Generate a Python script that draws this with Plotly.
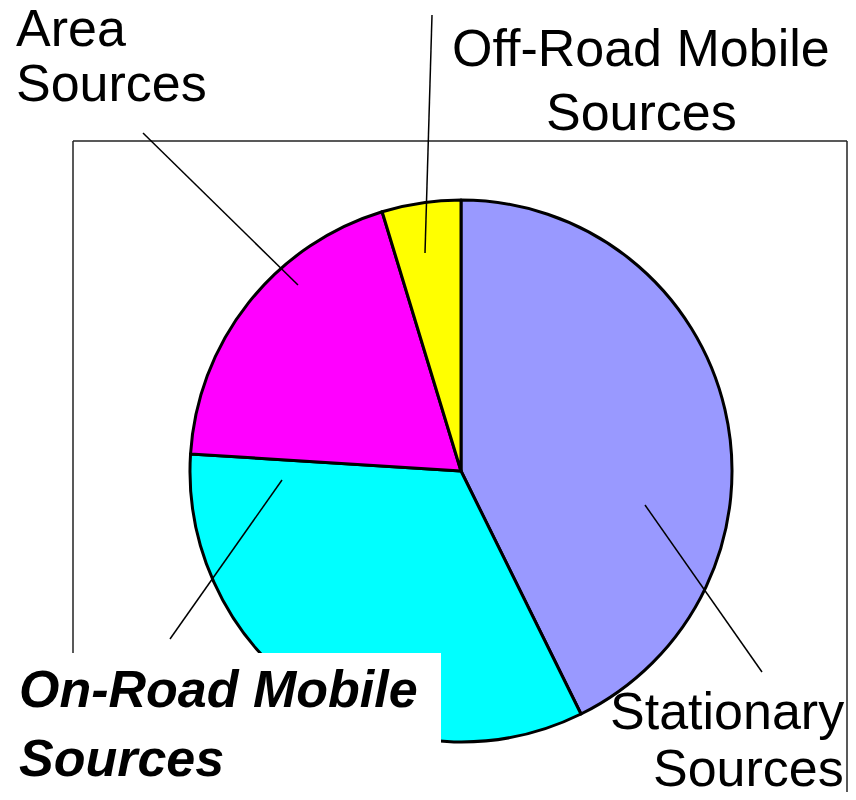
import plotly.graph_objects as go

# Data
categories = ["Stationary Sources", "On-Road Mobile Sources", "Area Sources", "Off-Road Mobile Sources"]
values = [42.7, 33.3, 19.3, 4.7]
colors = ["#9999FF", "#00FFFF", "#FF00FF", "#FFFF00"]

# The page places the figure 8px from the top-left corner of the window
OFF = 8
W, H = 856 - 2 * OFF, 800 - 2 * OFF

def px(x):
    return (x - OFF) / W

def py(y):
    return 1 - (y - OFF) / H

fig = go.Figure()
cx, cy, r = 461, 471, 271
fig.add_trace(go.Pie(
    labels=categories, values=values, sort=False, direction="clockwise", rotation=0,
    marker=dict(colors=colors, line=dict(color="black", width=3)),
    textinfo="none", hoverinfo="label+percent", showlegend=False,
    domain=dict(x=[px(cx - r), px(cx + r)], y=[py(cy + r), py(cy - r)]),
))

shapes = []
# frame
frame = dict(type="line", xref="paper", yref="paper", line=dict(color="#222", width=1.5), layer="below")
shapes.append({**frame, "x0": px(73), "y0": py(141), "x1": px(847), "y1": py(141)})
shapes.append({**frame, "x0": px(73), "y0": py(141), "x1": px(73), "y1": py(653)})
shapes.append({**frame, "x0": px(847), "y0": py(141), "x1": px(847), "y1": 0})
# white box behind On-Road label
shapes.append(dict(type="rect", xref="paper", yref="paper", x0=0, x1=px(441), y0=0, y1=py(653),
                   fillcolor="white", line=dict(width=0), layer="above"))
# leader lines
lead = dict(type="line", xref="paper", yref="paper", line=dict(color="black", width=1.5), layer="above")
for (x0, y0, x1, y1) in [(143, 133, 298, 285), (432, 15, 425, 253), (170, 639, 282, 480), (645, 505, 762, 672)]:
    shapes.append({**lead, "x0": px(x0), "y0": py(y0), "x1": px(x1), "y1": py(y1)})

font = dict(family="Liberation Sans, Arial", size=52, color="black")
annotations = []

def txt(t, x, ycenter, anchor, bold=False):
    t2 = f"<b><i>{t}</i></b>" if bold else t
    annotations.append(dict(text=t2, x=px(x), y=py(ycenter), xref="paper", yref="paper",
                            xanchor=anchor, yanchor="middle", showarrow=False, font=font))

txt("Area", 14, 28, "left")
txt("Sources", 14, 83, "left")
txt("Off-Road Mobile", 641, 48, "center")
txt("Sources", 641, 112, "center")
txt("On-Road Mobile", 17, 689, "left", bold=True)
txt("Sources", 17, 758, "left", bold=True)
txt("Stationary", 846, 711, "right")
txt("Sources", 846, 768, "right")

fig.update_layout(width=W, height=H, margin=dict(l=0, r=0, t=0, b=0),
                  paper_bgcolor="white", plot_bgcolor="white",
                  shapes=shapes, annotations=annotations)
fig.write_html("out.html")
